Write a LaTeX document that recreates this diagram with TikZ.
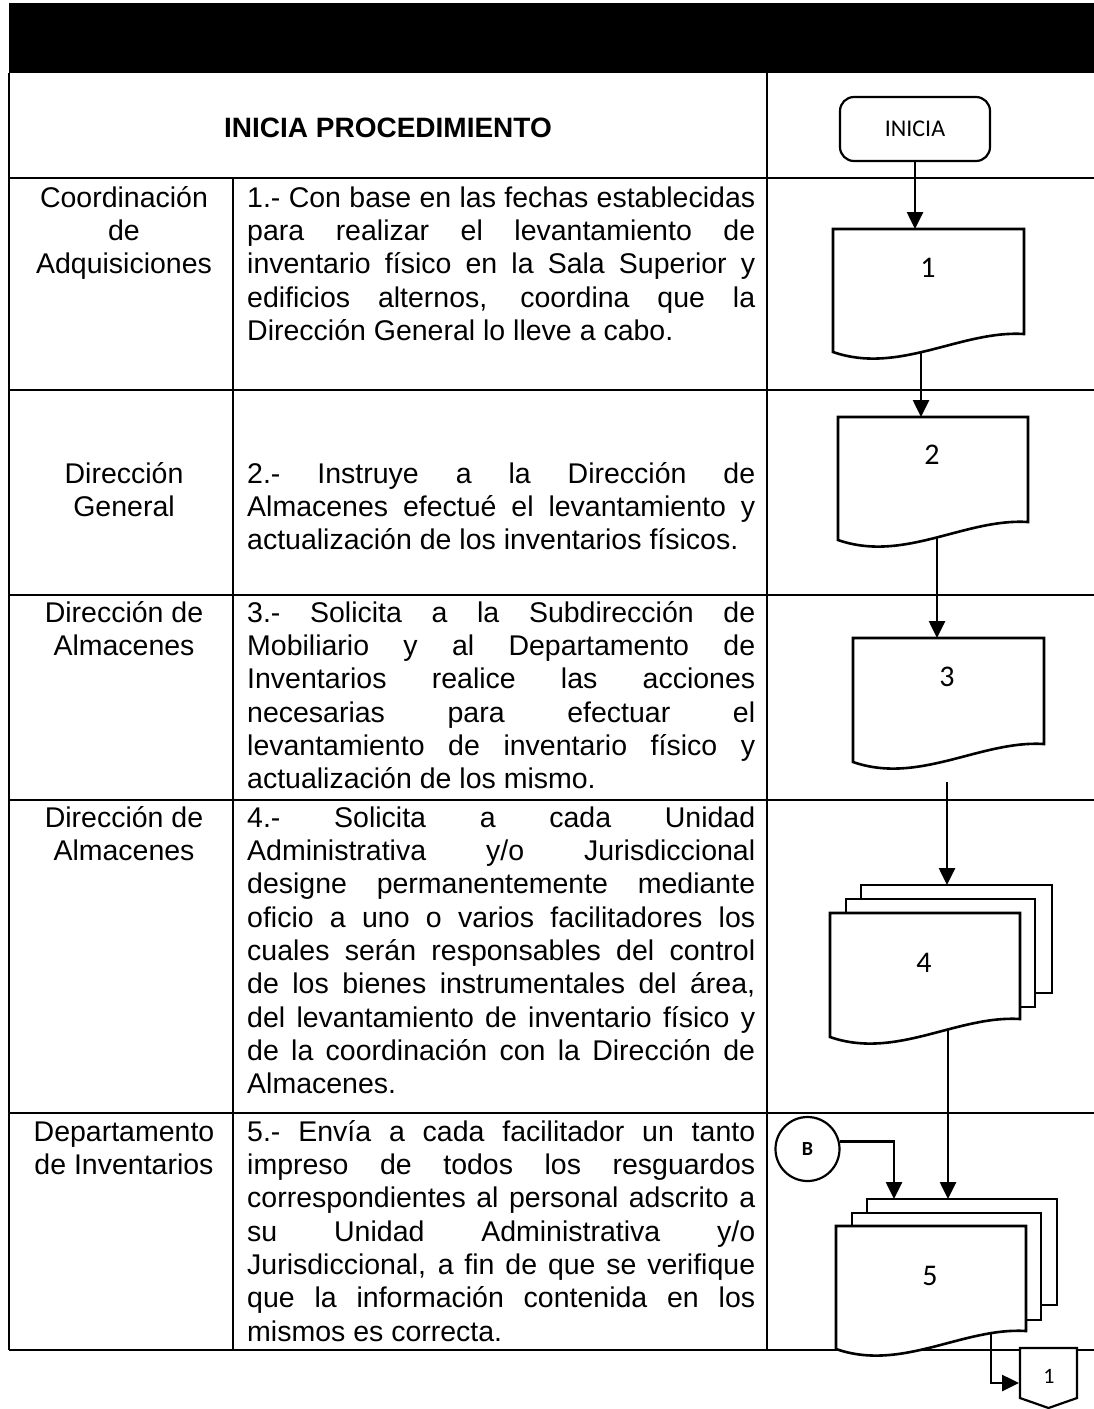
\documentclass[tikz,border=0pt]{standalone}
\usepackage{fontspec}
\setmainfont{Liberation Sans}
\newfontfamily\carl{Carlito}
\usetikzlibrary{arrows.meta,calc}
\newcommand\lanetxt{\fontsize{28.5}{33.3}\selectfont\lineskiplimit=-20pt\hyphenpenalty=10000\tolerance=10000\emergencystretch=20pt}
\newcommand\stru{\rule{0pt}{24pt}}
\begin{document}
\begin{tikzpicture}[x=1pt,y=-1pt,
  tbl/.style={line width=1.8pt},
  shp/.style={line width=2.6pt, fill=white, line join=miter},
  arr/.style={line width=2.6pt, -{Triangle[width=16pt,length=17pt]}},
  lane/.style={font=\lanetxt, align=center, anchor=north, inner sep=0pt},
  desc/.style={font=\lanetxt, text width=508pt, align=justify, anchor=north west, inner sep=0pt},
  slot/.style={inner sep=0pt, outer sep=0pt},
  num/.style={font=\carl\fontsize{30}{32}\selectfont, inner sep=0pt}
]
\useasboundingbox (0,0) rectangle (1094,1409);
\fill[white] (0,0) rectangle (1094,1409);

% table
\fill[black] (9,3) rectangle (1094,73);
\draw[tbl] (9,73) -- (9,1350);
\draw[tbl] (233,178) -- (233,1350);
\draw[tbl] (767,73) -- (767,1350);
\foreach \yy in {178,390,595,800,1113,1350} {\draw[tbl] (9,\yy) -- (1094,\yy);}

\node[font=\bfseries\fontsize{28}{30}\selectfont, inner sep=0pt] (hdr) at (388,128) {INICIA PROCEDIMIENTO};

% lane texts
\node[lane] (l1) at (124,183) {\stru Coordinación\\de\\Adquisiciones};
\node[lane] (l2) at (124,459) {\stru Dirección\\General};
\node[lane] (l3) at (124,598) {\stru Dirección de\\Almacenes};
\node[lane] (l4) at (124,803) {\stru Dirección de\\Almacenes};
\node[lane] (l5) at (124,1117) {\stru Departamento\\de Inventarios};

% descriptions
\node[desc] (t1) at (247,183) {\stru 1.- Con base en las fechas establecidas\linebreak para realizar el levantamiento de\linebreak inventario físico en la Sala Superior y\linebreak edificios alternos, coordina que la\linebreak Dirección General lo lleve a cabo.};
\node[desc] (t2) at (247,459) {\stru 2.- Instruye a la Dirección de\linebreak Almacenes efectué el levantamiento y\linebreak actualización de los inventarios físicos.};
\node[desc] (t3) at (247,598) {\stru 3.- Solicita a la Subdirección de\linebreak Mobiliario y al Departamento de\linebreak Inventarios realice las acciones\linebreak necesarias para efectuar el\linebreak levantamiento de inventario físico y\linebreak actualización de los mismo.};
\node[desc] (t4) at (247,803) {\stru 4.- Solicita a cada Unidad\linebreak Administrativa y/o Jurisdiccional\linebreak designe permanentemente mediante\linebreak oficio a uno o varios facilitadores los\linebreak cuales serán responsables del control\linebreak de los bienes instrumentales del área,\linebreak del levantamiento de inventario físico y\linebreak de la coordinación con la Dirección de\linebreak Almacenes.};
\node[desc] (t5) at (247,1117) {\stru 5.- Envía a cada facilitador un tanto\linebreak impreso de todos los resguardos\linebreak correspondientes al personal adscrito a\linebreak su Unidad Administrativa y/o\linebreak Jurisdiccional, a fin de que se verifique\linebreak que la información contenida en los\linebreak mismos es correcta.};

% flowchart nodes
\node[draw, line width=2.2pt, rounded corners=14pt, minimum width=150pt, minimum height=64pt, font=\carl\fontsize{24}{26}\selectfont] (ini) at (915,129) {INICIA};
\node[slot, minimum width=191pt, minimum height=105pt] (d1) at (928.5,281.5) {};
\node[slot, minimum width=190pt, minimum height=105pt] (d2) at (933,469.5) {};
\node[slot, minimum width=191pt, minimum height=106pt] (d3) at (948.5,691) {};
\node[slot, minimum width=191pt, minimum height=108pt] (d4b) at (956.5,939) {};
\node[slot, minimum width=189pt, minimum height=108pt] (d4m) at (940.5,953) {};
\node[slot, minimum width=190pt, minimum height=106pt] (d4f) at (925,966) {};
\node[slot, minimum width=190pt, minimum height=106pt] (d5b) at (962,1252) {};
\node[slot, minimum width=189pt, minimum height=107pt] (d5m) at (946.5,1266.5) {};
\node[slot, minimum width=190pt, minimum height=105pt] (d5f) at (931,1278.5) {};
\node[draw, circle, line width=2.2pt, minimum size=64pt, inner sep=0pt, font=\carl\bfseries\fontsize{20}{22}\selectfont] (B) at (807.5,1149) {B};
\node[slot, minimum width=57pt, minimum height=50pt] (off) at (1048.5,1373) {};

% connectors
\coordinate (a12) at (921,330);
\coordinate (a23) at (937,510);
\coordinate (a34) at (947,782);
\coordinate (a45) at (948,1000);
\coordinate (bin) at (894,1199);
\coordinate (a5o) at (991,1320);
\coordinate (offin) at (1019,1383);
\draw[arr] (ini.south) -- (ini.south |- d1.north);
\draw[arr] (a12) -- (a12 |- d2.north);
\draw[arr] (a23) -- (a23 |- d3.north);
\draw[arr] (a34) -- (a34 |- d4b.north);
\draw[arr] (a45) -- (a45 |- d5b.north);
\draw[arr] (B.13) -| (bin);
\draw[arr] (a5o) |- (offin);

% shapes
\draw[shp] (d4b.north west) rectangle (d4b.south east);
\draw[shp] (d4m.north west) rectangle (d4m.south east);
\draw[shp] (d5b.north west) rectangle (d5b.south east);
\draw[shp] (d5m.north west) rectangle (d5m.south east);
\foreach \n in {d1,d2,d3,d4f,d5f} {
  \draw[shp] (\n.north west) -- (\n.north east) -- (\n.south east)
    .. controls ($(\n.south east)+(-63,-4)$) and ($(\n.south west)+(66,41)$) .. ($(\n.south west)+(0,18)$) -- cycle;
}
\draw[shp, line width=2.2pt] (off.north west) -- (off.north east) -- (off.south east) -- ($(off.south)+(0,10)$) -- (off.south west) -- cycle;

% labels
\node[num] (d1t) at (928,268) {1};
\node[num] (d2t) at (932,455) {2};
\node[num] (d3t) at (947,677) {3};
\node[num] (d4t) at (924,963) {4};
\node[num] (d5t) at (930,1276) {5};
\node[num, font=\carl\fontsize{22}{24}\selectfont] (offt) at (1049,1376) {1};
\end{tikzpicture}
\end{document}
